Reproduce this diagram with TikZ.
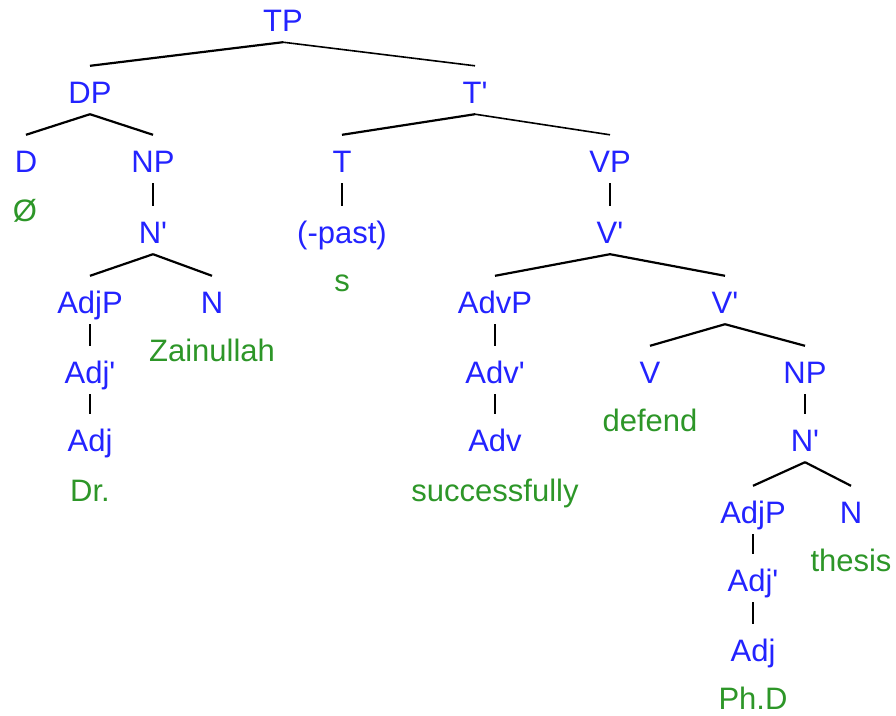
\documentclass[tikz,border=0pt]{standalone}
\usepackage{fontspec}
\setmainfont{Liberation Sans}
\definecolor{catblue}{RGB}{35,35,255}
\definecolor{leafgreen}{RGB}{45,150,40}
\begin{document}
\begin{tikzpicture}[x=1pt,y=-1pt,
  cat/.style={anchor=base,inner sep=0pt,text height=37.5pt,text depth=10.5pt,
    text=catblue,font=\fontsize{31}{36}\selectfont},
  leaf/.style={anchor=base,inner sep=0pt,text=leafgreen,font=\fontsize{31}{36}\selectfont},
  lb/.style={line width=2.2pt,black},
  rb/.style={line width=1.6pt,black},
  vb/.style={line width=1.7pt,black}]
\useasboundingbox (0,0) rectangle (896,715);
% categories (x, baseline = visual centre + 11.5)
\node[cat] (TP) at (283,31.5) {TP};
\node[cat] (DP) at (90,103.5) {DP};
\node[cat] (Tb) at (475,103.5) {T\textquotesingle};
\node[cat] (D) at (26,172.5) {D};
\node[cat] (NP1) at (153,172.5) {NP};
\node[cat] (Nb1) at (153,243.5) {N\textquotesingle};
\node[cat] (AdjP1) at (90,313.5) {AdjP};
\node[cat] (Adjb1) at (90,383.5) {Adj\textquotesingle};
\node[cat] (Adj1) at (90,451.5) {Adj};
\node[cat] (N1) at (212,313.5) {N};
\node[cat] (T) at (342,172.5) {T};
\node[cat] (past) at (342,243.5) {(-past)};
\node[cat] (VP) at (610,172.5) {VP};
\node[cat] (Vb1) at (610,243.5) {V\textquotesingle};
\node[cat] (AdvP) at (495,313.5) {AdvP};
\node[cat] (Advb) at (495,383.5) {Adv\textquotesingle};
\node[cat] (Adv) at (495,451.5) {Adv};
\node[cat] (Vb2) at (725,313.5) {V\textquotesingle};
\node[cat] (V) at (650,383.5) {V};
\node[cat] (NP2) at (805,383.5) {NP};
\node[cat] (Nb2) at (805,451.5) {N\textquotesingle};
\node[cat] (AdjP2) at (753,523.5) {AdjP};
\node[cat] (Adjb2) at (753,591.5) {Adj\textquotesingle};
\node[cat] (Adj2) at (753,661.5) {Adj};
\node[cat] (N2) at (851,523.5) {N};
% leaves
\node[leaf] (zero) at (25,221.5) {Ø};
\node[leaf] (Dr) at (90,501.5) {Dr.};
\node[leaf] (Zain) at (212,361.5) {Zainullah};
\node[leaf] (s) at (342,291.5) {s};
\node[leaf] (succ) at (495,501.5) {successfully};
\node[leaf] (defend) at (650,431.5) {defend};
\node[leaf] (PhD) at (753,709.5) {Ph.D};
\node[leaf] (thesis) at (851,571.5) {thesis};
% branches
\draw[lb] (TP.south) -- (DP.north);
\draw[rb] (TP.south) -- (Tb.north);
\draw[lb] (DP.south) -- (D.north);
\draw[lb] (DP.south) -- (NP1.north);
\draw[vb] (NP1.south) -- (Nb1.north);
\draw[lb] (Nb1.south) -- (AdjP1.north);
\draw[lb] (Nb1.south) -- (N1.north);
\draw[vb] (AdjP1.south) -- (Adjb1.north);
\draw[vb] (Adjb1.south) -- (Adj1.north);
\draw[lb] (Tb.south) -- (T.north);
\draw[rb] (Tb.south) -- (VP.north);
\draw[vb] (T.south) -- (past.north);
\draw[vb] (VP.south) -- (Vb1.north);
\draw[lb] (Vb1.south) -- (AdvP.north);
\draw[lb] (Vb1.south) -- (Vb2.north);
\draw[vb] (AdvP.south) -- (Advb.north);
\draw[vb] (Advb.south) -- (Adv.north);
\draw[lb] (Vb2.south) -- (V.north);
\draw[lb] (Vb2.south) -- (NP2.north);
\draw[vb] (NP2.south) -- (Nb2.north);
\draw[lb] (Nb2.south) -- (AdjP2.north);
\draw[lb] (Nb2.south) -- (N2.north);
\draw[vb] (AdjP2.south) -- (Adjb2.north);
\draw[vb] (Adjb2.south) -- (Adj2.north);
\end{tikzpicture}
\end{document}
